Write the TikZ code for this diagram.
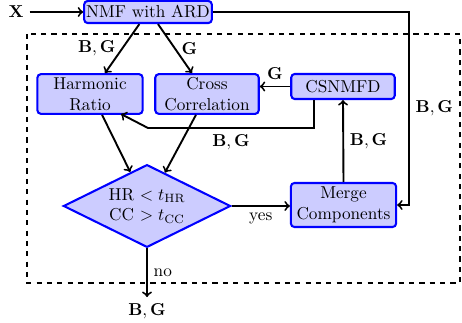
\documentclass[tikz,border=0pt]{standalone}
\usepackage{amsmath}
\usepackage{amssymb}
\usetikzlibrary{arrows,shapes.geometric}

\begin{document}
\begin{tikzpicture}[x=0.58pt,y=-0.58pt,
    block/.style={draw=blue,fill=blue!20,line width=1.2pt,rounded corners=2pt,
      align=center,inner sep=1pt},
    decision/.style={diamond,aspect=2,draw=blue,fill=blue!20,line width=1.2pt,align=center,
      inner sep=0pt,minimum width=97pt,minimum height=48pt},
    line/.style={line width=1.1pt}]
      \useasboundingbox (0,0) rectangle (462,323);
      \draw[line width=1.1pt,dashed] (27,34) rectangle (460,283);

    \node (x) at (16,12) {$\mathbf{X}$};
    \node[block,minimum width=74pt,minimum height=12.8pt] (nmf) at (148,12) {NMF with ARD};
    \node[block,minimum width=61pt,minimum height=23pt] (hr) at (90,94) {Harmonic\\Ratio};
    \node[block,minimum width=60pt,minimum height=23pt] (cc) at (207,94) {Cross\\Correlation};
    \node[block,minimum width=60pt,minimum height=14.5pt] (cs) at (343,86.5) {CSNMFD};
    \node[block,minimum width=61pt,minimum height=25.5pt] (merge) at (343.5,205) {Merge\\Components};
    \node[decision] (dec) at (147,206) {HR $< t_{\mathrm{HR}}$\\CC $> t_{\mathrm{CC}}$};

    \coordinate (r1) at (409,12);
    \coordinate (c1) at (314,128);
    \coordinate (c2) at (148,128);
    \coordinate (c3) at (121,114);
    \coordinate (out) at (147,297);

    \draw[line,->] (x) -- (nmf);
    \draw[line,->] ([xshift=-5pt]nmf.south) -- node[left]{$\mathbf{B},\mathbf{G}$} ([xshift=8.7pt]hr.north);
    \draw[line,->] ([xshift=5.8pt]nmf.south) -- node[right]{$\mathbf{G}$} ([xshift=-8.7pt]cc.north);
    \draw[line,->] (cs.west) -- node[above]{$\mathbf{G}$} (cs.west -| cc.east);
    \draw[line,->] (c1 |- cs.south) -- (c1) -- node[below]{$\mathbf{B},\mathbf{G}$} (c2) -- (c3);
    \draw[line,->] ([xshift=7pt]hr.south) -- (dec);
    \draw[line,->] ([xshift=-6.4pt]cc.south) -- (dec);
    \draw[line,->] (dec.east) -- node[below]{yes} (dec.east -| merge.west);
    \draw[line,->] (merge.north) -- node[right]{$\mathbf{B},\mathbf{G}$} (cs.south);
    \draw[line,->] (nmf.east) -- (r1) |- node[pos=0.25,right]{$\mathbf{B},\mathbf{G}$} (merge.east);
    \draw[line,->] (dec.south) -- node[right]{no} (out) node[below]{$\mathbf{B},\mathbf{G}$};
  \end{tikzpicture}
\end{document}
